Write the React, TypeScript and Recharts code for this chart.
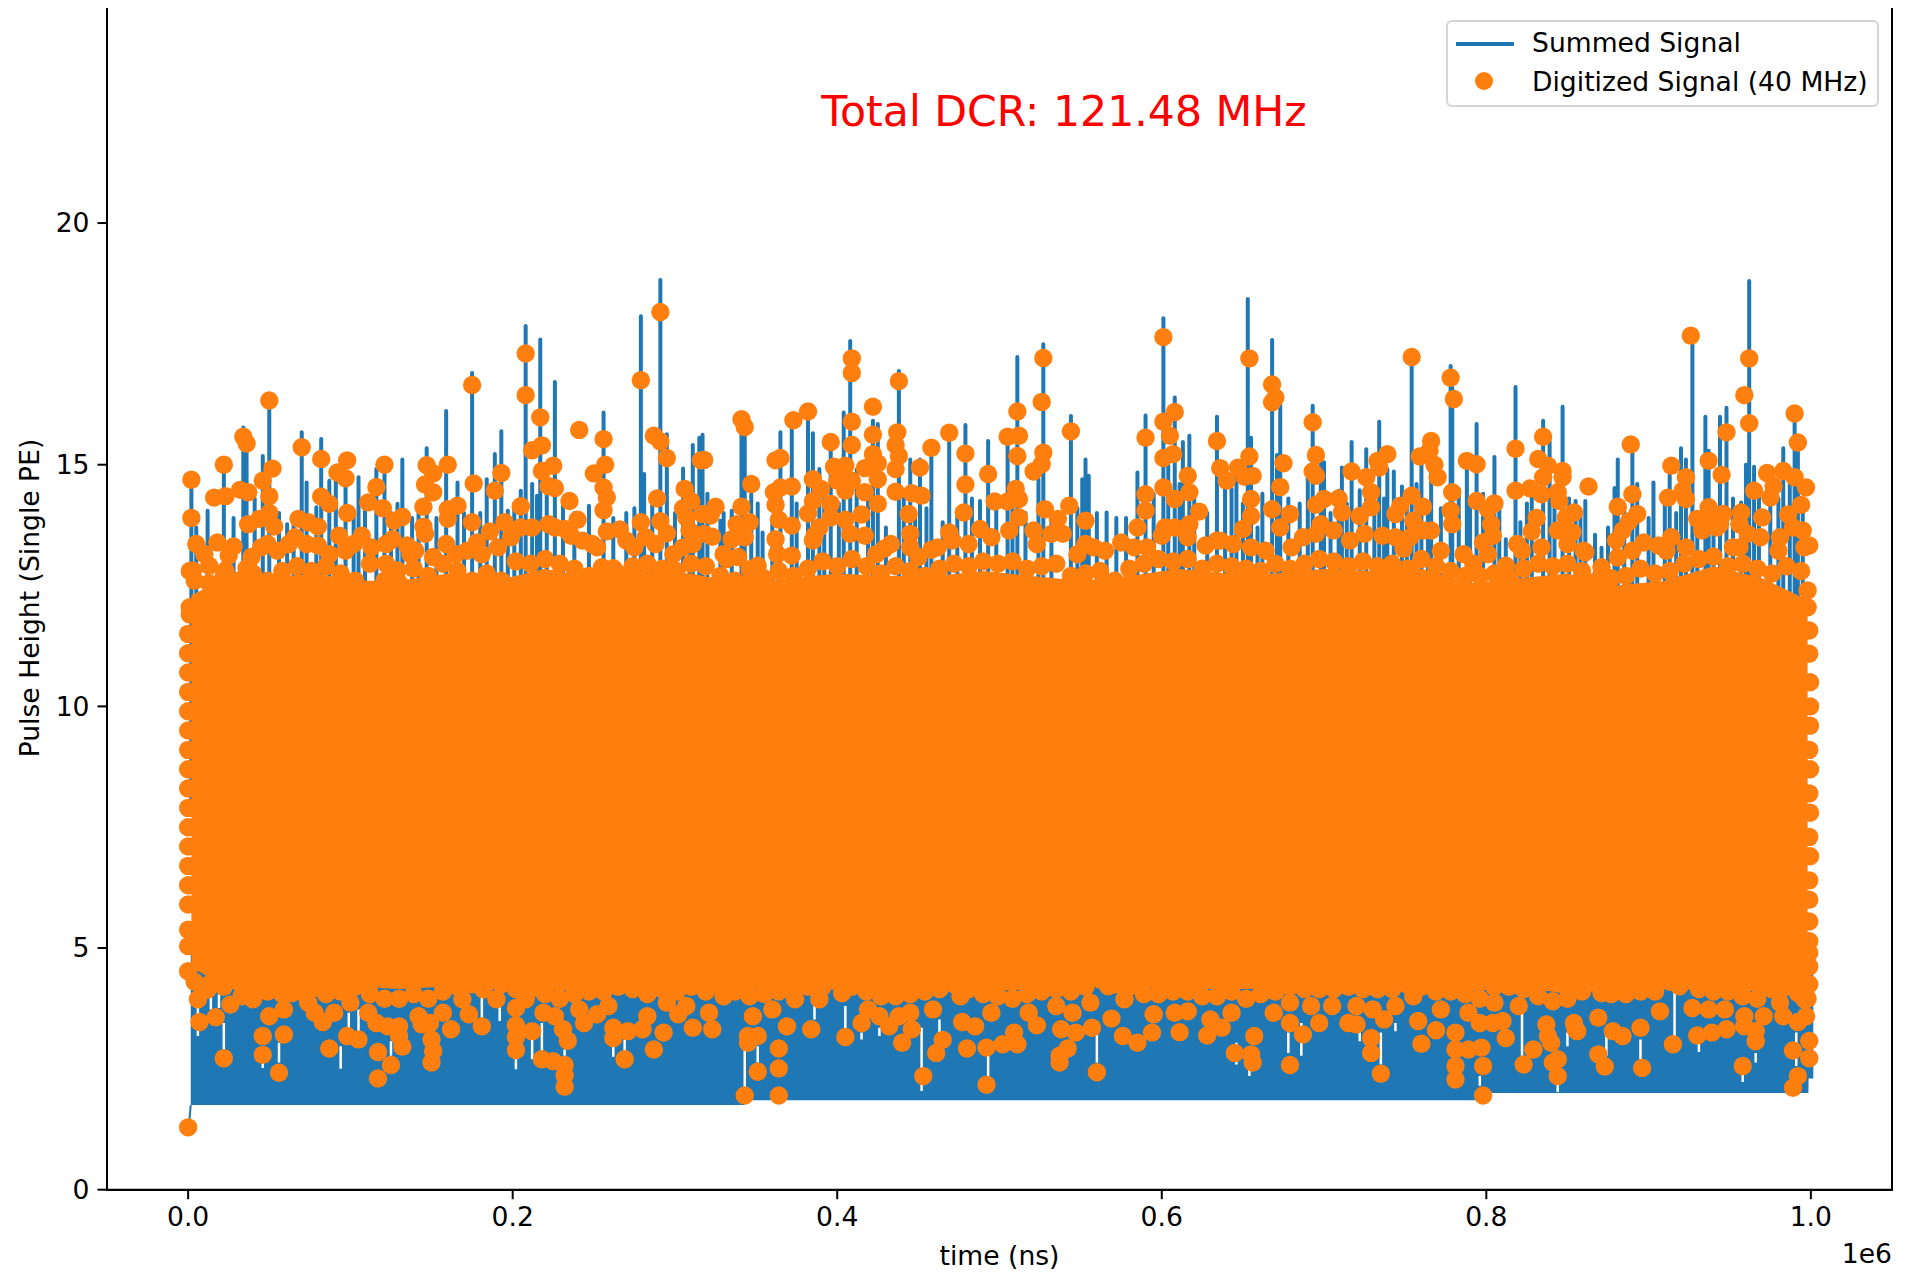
import { ComposedChart, Area, Line, Scatter, XAxis, YAxis } from 'recharts';

const BLUE = '#1f77b4';
const ORANGE = '#ff7f0e';
const FONT = '"DejaVu Sans", sans-serif';

// all times in units of 1e6 ns, like the axis
const xTicks = [0, 0.2, 0.4, 0.6, 0.8, 1.0];
const yTicks = [0, 5, 10, 15, 20];
const xMin = -0.05;
const xMax = 1.05;
const yMax = 24.47;

// floor of the summed signal: [time, lowest value]
const signalFloor = [
    [0.0016, 1.75], [0.343, 1.75], [0.3431, 1.85], [0.797, 1.85], [0.7971, 2.0], [0.9985, 2.0], [0.9986, 2.3], [1.0015, 2.3],
];
const signalStart = [[0.0004, 1.29], [0.0016, 1.75]];

// tallest peaks of the summed signal: [time, value]
const spikesEarly = [
    [0.002, 14.7], [0.005, 13.7], [0.012, 14.05], [0.022, 15.01], [0.034, 15.77], [0.036, 15.5], [0.046, 15.18], [0.05, 16.33], [0.061, 13.77],
    [0.07, 15.67], [0.073, 14.63], [0.079, 14.12], [0.082, 15.53], [0.087, 14.67], [0.091, 14.67], [0.097, 14.67], [0.105, 14.74],
    [0.116, 14.91], [0.121, 14.94], [0.129, 14.19], [0.132, 15.11], [0.147, 15.34], [0.159, 16.11], [0.166, 14.63], [0.175, 16.9],
    [0.184, 14.7], [0.189, 15.22], [0.193, 15.69], [0.197, 14.05], [0.205, 14.46], [0.208, 17.87], [0.217, 17.59], [0.215, 14.36],
    [0.226, 16.71], [0.247, 14.15], [0.256, 16.08], [0.275, 14.1], [0.279, 18.07], [0.281, 14.81], [0.291, 18.82], [0.295, 15.63],
    [0.305, 14.92], [0.311, 15.41], [0.315, 15.56],
];
const spikesMiddle = [
    [0.317, 15.62], [0.328, 13.84], [0.335, 14.05], [0.341, 15.84], [0.343, 15.7], [0.347, 14.39], [0.354, 13.6], [0.365, 15.67], [0.372, 15.77],
    [0.382, 16.11], [0.385, 15.65], [0.389, 14.91], [0.396, 15.36], [0.404, 16.08], [0.408, 17.56], [0.422, 15.91], [0.425, 15.84],
    [0.43, 13.7], [0.438, 16.94], [0.445, 15.11], [0.451, 15.11], [0.458, 15.36], [0.465, 13.81], [0.469, 15.63], [0.479, 15.82],
    [0.488, 14.25], [0.493, 15.49], [0.505, 15.49], [0.511, 17.23], [0.527, 17.49], [0.544, 16.01], [0.553, 15.11], [0.551, 14.7],
    [0.555, 14.77], [0.566, 14.01], [0.572, 13.9], [0.585, 14.84], [0.59, 16.02], [0.601, 18.03], [0.608, 16.39], [0.613, 15.47],
    [0.617, 15.6], [0.634, 15.99], [0.639, 14.67], [0.646, 14.81], [0.653, 18.43], [0.655, 15.56], [0.659, 13.7], [0.668, 17.58], [0.673, 16.25],
];
const spikesLate = [
    [0.693, 16.22], [0.7, 15.05], [0.709, 14.46], [0.711, 14.94], [0.717, 15.47], [0.722, 14.47], [0.726, 15.32], [0.734, 15.89],
    [0.739, 14.91], [0.743, 14.86], [0.748, 14.55], [0.754, 17.15], [0.76, 15.08], [0.766, 15.49], [0.778, 17.04], [0.779, 16.6],
    [0.788, 15.08], [0.794, 15.84], [0.805, 15.16], [0.812, 13.46], [0.818, 16.61], [0.821, 13.81], [0.828, 14.46], [0.835, 15.91],
    [0.839, 15.49], [0.847, 16.2], [0.855, 14.25], [0.861, 14.25], [0.867, 13.55], [0.871, 13.28], [0.879, 14.52], [0.881, 15.11],
    [0.89, 15.42], [0.903, 14.63], [0.913, 14.81], [0.92, 15.34], [0.923, 15.11], [0.927, 17.67], [0.935, 15.99], [0.937, 15.29],
    [0.944, 15.99], [0.948, 16.18], [0.957, 14.22], [0.962, 18.8], [0.965, 14.96], [0.983, 15.34], [0.99, 16.05], [0.992, 15.46],
];
// shorter peaks just above the solid part
const spikesShort = [
    [0.028, 13.9], [0.041, 14.3], [0.056, 14.0], [0.065, 13.9], [0.102, 14.0], [0.109, 14.2], [0.125, 14.0], [0.138, 13.9], [0.142, 14.2], [0.153, 13.9],
    [0.17, 14.0], [0.18, 14.0], [0.201, 14.2], [0.212, 14.6], [0.221, 14.9], [0.231, 14.2], [0.238, 14.0], [0.262, 13.9], [0.27, 14.0], [0.286, 14.4],
    [0.3, 14.0], [0.309, 14.4], [0.32, 14.4], [0.33, 14.0], [0.351, 14.2], [0.36, 13.9], [0.375, 14.2], [0.392, 14.6], [0.401, 14.2], [0.412, 14.9],
    [0.419, 14.4], [0.441, 14.3], [0.448, 14.0], [0.455, 14.1], [0.474, 14.0], [0.483, 14.3], [0.498, 14.2], [0.508, 14.6], [0.516, 14.0], [0.524, 14.7],
    [0.532, 14.0], [0.548, 14.1], [0.56, 14.0], [0.578, 13.9], [0.595, 14.4], [0.604, 15.0], [0.611, 14.6], [0.62, 14.5], [0.628, 14.0], [0.643, 14.5],
    [0.65, 14.2], [0.662, 14.4], [0.671, 15.2], [0.678, 14.3], [0.685, 14.2], [0.69, 14.8], [0.698, 15.3], [0.704, 14.0], [0.714, 14.2], [0.731, 14.1],
    [0.737, 14.3], [0.751, 14.4], [0.757, 14.6], [0.764, 14.2], [0.772, 14.1], [0.783, 14.5], [0.79, 14.2], [0.798, 14.4], [0.808, 14.3], [0.825, 14.2],
    [0.842, 14.4], [0.851, 14.3], [0.858, 14.0], [0.875, 13.7], [0.885, 14.1], [0.893, 14.6], [0.9, 13.9], [0.91, 14.4], [0.917, 14.0], [0.93, 14.0],
    [0.94, 14.2], [0.952, 14.3], [0.96, 15.0], [0.968, 14.5], [0.975, 14.2], [0.98, 14.3], [0.987, 14.6], [0.995, 14.2],
];

// thin gaps low down in the summed signal: [time, low, high]
const signalGaps = [
    [0.006, 3.18, 3.94], [0.022, 2.9, 3.45], [0.046, 2.52, 2.97], [0.056, 2.63, 3.04], [0.094, 2.5, 2.97], [0.125, 2.77, 3.07],
    [0.202, 2.49, 2.77], [0.212, 2.7, 3.11], [0.218, 2.7, 3.45], [0.232, 2.77, 2.9], [0.262, 2.75, 3.04], [0.269, 2.87, 3.11],
    [0.181, 3.56, 4.0], [0.192, 3.49, 3.8], [0.014, 3.73, 4.04], [0.019, 3.76, 4.04], [0.099, 3.32, 3.66], [0.105, 3.28, 3.73],
    [0.343, 2.08, 2.9], [0.351, 2.63, 2.97], [0.386, 3.52, 3.8], [0.405, 3.32, 3.8], [0.415, 3.11, 3.25], [0.426, 3.18, 3.35],
    [0.452, 2.04, 3.35], [0.463, 3.25, 3.52], [0.493, 2.35, 2.77], [0.56, 2.63, 3.25], [0.646, 2.59, 3.04], [0.654, 2.35, 2.56],
    [0.678, 2.83, 3.25], [0.686, 2.77, 3.45], [0.722, 3.07, 3.25], [0.735, 2.59, 3.25], [0.744, 3.28, 3.45], [0.796, 2.15, 2.35],
    [0.822, 2.77, 3.66], [0.844, 2.02, 2.21], [0.85, 2.97, 3.25], [0.874, 2.77, 3.32], [0.895, 2.7, 3.11], [0.916, 3.18, 4.07],
    [0.931, 2.85, 3.04], [0.958, 2.23, 2.42], [0.966, 2.63, 2.83], [0.991, 2.56, 3.25],
];

const digitizedBlock = [
    [0.002, 4.6, 12.3], [0.02, 4.25, 12.6], [0.04, 4.15, 12.65], [0.06, 4.15, 12.7], [0.08, 4.15, 12.75], [0.1, 4.2, 12.6], [0.13, 4.15, 12.6],
    [0.16, 4.2, 12.75], [0.19, 4.2, 12.6], [0.22, 4.1, 12.85], [0.25, 4.15, 12.65], [0.28, 4.15, 12.8], [0.31, 4.15, 12.75], [0.34, 4.15, 12.55],
    [0.37, 4.15, 12.65], [0.4, 4.2, 12.75], [0.43, 4.1, 12.7], [0.46, 4.15, 12.7], [0.49, 4.1, 12.8], [0.52, 4.15, 12.7], [0.55, 4.2, 12.6],
    [0.58, 4.2, 12.7], [0.61, 4.15, 12.85], [0.64, 4.15, 12.75], [0.67, 4.15, 12.75], [0.7, 4.2, 12.85], [0.73, 4.2, 12.8], [0.76, 4.2, 12.85],
    [0.79, 4.1, 12.55], [0.82, 4.2, 12.65], [0.85, 4.05, 12.75], [0.88, 4.15, 12.5], [0.91, 4.2, 12.6], [0.94, 4.15, 12.9], [0.97, 4.1, 12.65], [0.998, 4.2, 12.2],
];

const digitizedTopEarly = [
    [0.002, 14.69], [0.002, 13.9], [0.022, 15.0], [0.016, 14.32], [0.023, 14.35], [0.032, 14.48], [0.037, 14.43], [0.034, 15.58], [0.036, 15.44],
    [0.05, 16.33], [0.052, 14.92], [0.046, 14.67], [0.05, 14.35], [0.05, 14.0], [0.044, 13.88], [0.037, 13.77], [0.053, 13.72], [0.07, 15.36],
    [0.082, 15.12], [0.082, 14.34], [0.087, 14.19], [0.092, 14.84], [0.098, 15.09], [0.097, 14.72], [0.121, 15.0], [0.116, 14.54], [0.111, 14.22],
    [0.12, 14.1], [0.098, 14.0], [0.068, 13.88], [0.074, 13.81], [0.08, 13.72], [0.093, 13.53], [0.132, 13.92], [0.127, 13.84], [0.147, 14.99],
    [0.151, 14.82], [0.146, 14.59], [0.151, 14.43], [0.145, 14.13], [0.16, 15.0], [0.16, 14.08], [0.166, 14.15], [0.16, 13.88], [0.145, 13.72],
    [0.176, 14.61], [0.175, 16.65], [0.175, 13.81], [0.189, 14.46], [0.193, 14.83], [0.208, 17.3], [0.208, 16.44], [0.217, 15.98], [0.218, 15.4],
    [0.212, 15.3], [0.218, 14.87], [0.225, 14.98], [0.222, 14.56], [0.226, 14.52], [0.235, 14.25], [0.205, 14.14], [0.241, 15.72], [0.256, 15.53],
    [0.257, 15.0], [0.25, 14.82], [0.256, 14.53], [0.258, 14.32], [0.256, 14.06], [0.24, 13.86], [0.258, 13.62], [0.266, 13.66], [0.279, 16.75],
    [0.291, 18.16], [0.287, 15.6], [0.291, 15.48], [0.295, 15.14], [0.289, 14.3], [0.279, 13.81], [0.291, 13.83], [0.295, 13.58], [0.306, 14.5],
    [0.316, 15.09], [0.186, 13.62], [0.195, 13.81], [0.107, 13.53], [0.146, 13.57], [0.028, 13.31], [0.018, 13.39], [0.005, 13.36], [0.045, 13.29],
    [0.055, 13.22], [0.003, 12.81], [0.036, 12.86], [0.122, 12.95], [0.129, 12.81], [0.159, 13.36], [0.178, 13.39], [0.262, 12.86], [0.297, 12.84],
    [0.013, 12.91], [0.023, 12.81], [0.08, 13.33], [0.135, 13.33], [0.137, 13.15], [0.249, 13.36], [0.236, 13.53], [0.205, 13.7],
];
const digitizedTopMiddle = [
    [0.318, 15.1], [0.341, 15.94], [0.343, 15.78], [0.347, 14.6], [0.341, 14.13], [0.325, 14.13], [0.322, 13.95], [0.346, 13.81], [0.338, 13.77],
    [0.323, 13.51], [0.335, 13.46], [0.343, 13.5], [0.362, 15.09], [0.365, 15.14], [0.373, 15.92], [0.382, 16.1], [0.372, 14.55], [0.361, 14.43],
    [0.365, 14.53], [0.362, 14.17], [0.364, 13.86], [0.372, 13.74], [0.362, 13.46], [0.385, 14.7], [0.39, 14.5], [0.385, 14.25], [0.396, 14.19],
    [0.382, 13.99], [0.396, 15.47], [0.398, 14.96], [0.405, 14.98], [0.4, 14.67], [0.409, 14.67], [0.405, 14.46], [0.409, 17.2], [0.409, 16.9],
    [0.409, 15.89], [0.409, 15.41], [0.405, 13.86], [0.415, 13.97], [0.422, 16.2], [0.422, 15.62], [0.422, 15.22], [0.425, 15.03], [0.417, 14.93],
    [0.425, 14.7], [0.417, 14.43], [0.425, 14.19], [0.438, 16.73], [0.437, 15.67], [0.436, 15.41], [0.438, 15.18], [0.436, 14.91], [0.436, 14.44],
    [0.446, 14.41], [0.452, 14.36], [0.444, 13.98], [0.451, 14.94], [0.458, 15.35], [0.469, 15.66], [0.479, 15.23], [0.479, 14.59], [0.478, 14.01],
    [0.493, 14.81], [0.497, 14.24], [0.505, 14.24], [0.505, 15.58], [0.512, 15.6], [0.511, 16.1], [0.511, 15.18], [0.51, 14.5], [0.512, 14.29],
    [0.512, 13.91], [0.527, 17.21], [0.526, 16.3], [0.527, 15.25], [0.526, 15.01], [0.521, 14.86], [0.528, 14.08], [0.536, 13.88], [0.544, 15.69],
    [0.543, 14.15], [0.553, 13.84], [0.575, 13.39], [0.59, 15.56], [0.59, 14.39], [0.59, 14.05], [0.585, 13.7], [0.601, 17.64], [0.601, 15.89],
    [0.608, 16.09], [0.605, 15.6], [0.601, 15.14], [0.607, 15.22], [0.616, 14.77], [0.601, 14.53], [0.617, 14.43], [0.608, 14.29], [0.623, 14.03],
    [0.602, 13.7], [0.654, 17.2], [0.634, 15.49], [0.636, 14.93], [0.64, 14.67], [0.647, 14.94], [0.651, 14.75], [0.656, 14.77], [0.654, 15.17],
    [0.655, 14.29], [0.655, 13.94], [0.668, 16.66], [0.67, 16.39], [0.668, 16.29], [0.675, 15.03], [0.673, 14.54], [0.668, 14.08], [0.679, 13.98],
    [0.65, 13.67], [0.634, 13.43], [0.488, 13.67], [0.469, 13.6], [0.458, 13.24], [0.445, 13.57], [0.417, 13.53], [0.429, 13.26], [0.386, 13.53],
    [0.346, 12.84], [0.332, 13.05], [0.553, 13.36], [0.565, 13.22],
];
const digitizedTopLate = [
    [0.693, 15.88], [0.695, 15.2], [0.693, 14.86], [0.695, 14.77], [0.695, 14.17], [0.7, 14.29], [0.709, 14.3], [0.711, 14.01], [0.717, 14.86],
    [0.726, 14.74], [0.729, 14.43], [0.729, 14.12], [0.722, 13.94], [0.698, 13.77], [0.734, 14.94], [0.739, 15.22], [0.733, 15.08], [0.754, 17.23],
    [0.759, 15.17], [0.766, 15.49], [0.765, 15.29], [0.768, 15.0], [0.77, 14.74], [0.754, 14.36], [0.747, 14.15], [0.744, 13.98], [0.761, 14.13],
    [0.755, 13.84], [0.766, 13.64], [0.778, 16.8], [0.78, 16.36], [0.779, 14.43], [0.778, 14.05], [0.779, 13.77], [0.788, 15.08], [0.794, 15.01],
    [0.794, 14.25], [0.805, 14.2], [0.801, 14.08], [0.803, 13.77], [0.804, 13.53], [0.798, 13.39], [0.818, 15.33], [0.818, 14.46], [0.827, 14.51],
    [0.835, 15.58], [0.832, 15.12], [0.838, 14.98], [0.835, 14.74], [0.834, 14.39], [0.847, 14.87], [0.847, 14.74], [0.844, 14.43], [0.845, 14.25],
    [0.854, 14.01], [0.849, 13.91], [0.831, 13.9], [0.863, 14.55], [0.844, 13.64], [0.853, 13.6], [0.828, 13.62], [0.861, 13.19], [0.819, 13.36],
    [0.881, 14.13], [0.889, 15.42], [0.89, 14.39], [0.893, 13.98], [0.888, 13.83], [0.884, 13.64], [0.88, 13.43], [0.897, 13.39], [0.906, 13.33],
    [0.914, 13.5], [0.914, 14.98], [0.912, 14.32], [0.923, 14.74], [0.921, 14.46], [0.923, 14.29], [0.926, 17.67], [0.937, 15.08], [0.945, 14.79],
    [0.937, 14.12], [0.946, 13.98], [0.957, 14.01], [0.948, 15.67], [0.959, 16.44], [0.962, 17.2], [0.962, 15.86], [0.965, 14.46], [0.973, 14.83],
    [0.977, 14.56], [0.975, 14.32], [0.97, 13.91], [0.983, 14.87], [0.99, 14.74], [0.997, 14.53], [0.99, 16.06], [0.992, 15.46], [0.994, 14.17],
    [0.986, 13.97], [0.995, 13.64], [0.981, 13.5], [0.999, 13.33], [0.969, 13.5], [0.956, 13.29], [0.753, 12.84], [0.812, 12.91], [0.749, 13.26], [0.736, 13.53],
];

const digitizedUpperRim = [
    [0.01, 13.15], [0.025, 13.12], [0.039, 13.09], [0.049, 13.36], [0.062, 13.36], [0.066, 13.5], [0.073, 13.36], [0.087, 13.15], [0.097, 13.22], [0.102, 13.36],
    [0.113, 13.29], [0.122, 13.36], [0.126, 13.46], [0.14, 13.22], [0.151, 13.09], [0.165, 13.15], [0.172, 13.22], [0.181, 13.15], [0.191, 13.29], [0.199, 13.5],
    [0.212, 13.7], [0.222, 13.77], [0.226, 13.7], [0.232, 13.67], [0.243, 13.43], [0.252, 13.29], [0.255, 12.88], [0.27, 13.43], [0.275, 13.29], [0.282, 13.5],
    [0.288, 13.36], [0.299, 13.15], [0.305, 13.29], [0.311, 13.36], [0.305, 14.1], [0.31, 14.25], [0.307, 13.91], [0.309, 13.64], [0.317, 13.98], [0.318, 13.57],
    [0.33, 13.15], [0.339, 13.09], [0.351, 12.91], [0.363, 13.15], [0.372, 13.12], [0.385, 13.43], [0.389, 13.7], [0.396, 13.91], [0.408, 13.57], [0.424, 13.15],
    [0.433, 13.36], [0.445, 13.29], [0.45, 13.09], [0.462, 13.29], [0.471, 13.43], [0.481, 13.36], [0.495, 13.5], [0.506, 13.64], [0.521, 13.64], [0.523, 13.36],
    [0.532, 13.57], [0.539, 13.57], [0.548, 13.15], [0.558, 13.29], [0.583, 13.29], [0.591, 13.29], [0.6, 13.53], [0.608, 13.7], [0.617, 13.77], [0.616, 13.5],
    [0.627, 13.33], [0.636, 13.43], [0.644, 13.36], [0.655, 13.29], [0.664, 13.22], [0.673, 13.7], [0.68, 13.29], [0.687, 13.5], [0.695, 13.57], [0.706, 13.64],
    [0.716, 13.43], [0.725, 13.57], [0.744, 13.5], [0.753, 13.5], [0.761, 13.64], [0.772, 13.22], [0.786, 13.15], [0.792, 12.95], [0.801, 13.15], [0.822, 13.22],
    [0.834, 13.29], [0.85, 13.36], [0.86, 13.22], [0.871, 12.88], [0.881, 13.08], [0.89, 13.22], [0.911, 13.22], [0.923, 13.29], [0.933, 13.64], [0.942, 13.7],
    [0.952, 13.29], [0.961, 13.57], [0.98, 13.22], [0.989, 13.7], [0.996, 13.29], [0.93, 13.88], [0.937, 13.84], [0.944, 13.77], [0.956, 13.77],
];
// a second row of points just under that rim
const digitizedUpperFill = [
    [0.004, 12.6], [0.013, 12.55], [0.022, 12.7], [0.031, 12.6], [0.04, 12.75], [0.049, 12.6], [0.058, 12.8], [0.067, 12.9], [0.076, 12.8], [0.085, 12.9],
    [0.094, 12.75], [0.103, 12.6], [0.112, 12.95], [0.121, 12.6], [0.13, 12.55], [0.139, 12.85], [0.148, 12.7], [0.157, 12.95], [0.166, 12.8], [0.175, 12.6],
    [0.184, 12.75], [0.193, 12.6], [0.202, 13.0], [0.211, 12.95], [0.22, 13.05], [0.229, 12.95], [0.238, 12.85], [0.247, 12.7], [0.256, 12.6], [0.265, 12.75],
    [0.274, 12.9], [0.283, 12.95], [0.292, 12.85], [0.301, 12.8], [0.31, 12.95], [0.319, 12.9], [0.328, 12.7], [0.337, 12.6], [0.346, 12.55], [0.355, 12.65],
    [0.364, 12.8], [0.373, 12.7], [0.382, 12.85], [0.391, 13.0], [0.4, 12.9], [0.409, 13.05], [0.418, 12.9], [0.427, 12.75], [0.436, 12.9], [0.445, 12.8],
    [0.454, 12.7], [0.463, 12.85], [0.472, 12.95], [0.481, 12.9], [0.49, 13.0], [0.499, 12.95], [0.508, 13.0], [0.517, 12.85], [0.526, 12.9], [0.535, 12.95],
    [0.544, 12.7], [0.553, 12.75], [0.562, 12.8], [0.571, 12.6], [0.58, 12.85], [0.589, 12.95], [0.598, 13.05], [0.607, 13.0], [0.616, 13.05], [0.625, 12.85],
    [0.634, 12.95], [0.643, 12.9], [0.652, 12.85], [0.661, 12.8], [0.67, 12.95], [0.679, 12.85], [0.688, 12.95], [0.697, 13.05], [0.706, 13.0], [0.715, 12.9],
    [0.724, 13.0], [0.733, 12.9], [0.742, 12.95], [0.751, 12.85], [0.76, 13.05], [0.769, 12.9], [0.778, 12.8], [0.787, 12.7], [0.796, 12.7], [0.805, 12.75],
    [0.814, 12.65], [0.823, 12.85], [0.832, 12.95], [0.841, 12.9], [0.85, 12.95], [0.859, 12.8], [0.868, 12.6], [0.877, 12.65], [0.886, 12.7], [0.895, 12.85],
    [0.904, 12.75], [0.913, 12.8], [0.922, 12.95], [0.931, 13.05], [0.94, 13.1], [0.949, 12.9], [0.958, 12.95], [0.967, 12.85], [0.976, 12.75], [0.985, 12.9], [0.994, 12.8],
];

const digitizedLowEarly = [
    [0.0, 1.29], [0.0, 4.52], [0.006, 3.94], [0.007, 3.47], [0.017, 3.57], [0.022, 2.72], [0.026, 3.83], [0.046, 3.18], [0.046, 2.79], [0.059, 3.21],
    [0.056, 2.42], [0.083, 3.47], [0.074, 3.87], [0.087, 2.92], [0.098, 3.18], [0.105, 3.11], [0.117, 2.85], [0.117, 2.3], [0.125, 2.58], [0.132, 2.96],
    [0.13, 3.18], [0.144, 3.42], [0.15, 2.63], [0.151, 2.87], [0.15, 3.11], [0.162, 3.32], [0.173, 3.63], [0.181, 3.38], [0.19, 3.94], [0.202, 3.76],
    [0.202, 3.4], [0.202, 3.16], [0.202, 2.89], [0.212, 3.28], [0.218, 2.7], [0.225, 2.66], [0.232, 2.58], [0.232, 2.37], [0.232, 2.13], [0.234, 3.08],
    [0.244, 3.45], [0.252, 3.63], [0.262, 3.35], [0.262, 3.14], [0.269, 2.7], [0.271, 3.28], [0.28, 3.32], [0.287, 2.9], [0.293, 3.25], [0.302, 3.63], [0.311, 3.35],
];
const digitizedLowMiddle = [
    [0.323, 3.32], [0.345, 3.18], [0.345, 3.04], [0.351, 3.18], [0.343, 1.95], [0.351, 2.44], [0.364, 2.92], [0.364, 2.51], [0.364, 1.95], [0.369, 3.38],
    [0.384, 3.32], [0.405, 3.16], [0.415, 3.45], [0.432, 3.38], [0.44, 3.04], [0.446, 3.32], [0.453, 2.35], [0.461, 2.83], [0.465, 3.1], [0.477, 3.47],
    [0.48, 2.92], [0.492, 2.94], [0.492, 2.17], [0.502, 3.01], [0.511, 3.01], [0.523, 3.4], [0.537, 2.77], [0.537, 2.63], [0.542, 2.92], [0.538, 3.32],
    [0.547, 3.25], [0.557, 3.35], [0.56, 2.43], [0.569, 3.54], [0.576, 3.18], [0.585, 3.04], [0.594, 3.25], [0.611, 3.26], [0.616, 3.69], [0.628, 3.19],
    [0.637, 3.35], [0.645, 2.83], [0.655, 2.8], [0.656, 2.63], [0.679, 2.58], [0.679, 3.45],
];
const digitizedLowLate = [
    [0.687, 3.21], [0.697, 3.45], [0.715, 3.45], [0.72, 3.42], [0.729, 3.14], [0.729, 2.83], [0.735, 2.4], [0.737, 3.52], [0.758, 3.49], [0.76, 3.02],
    [0.769, 3.3], [0.781, 3.25], [0.781, 2.9], [0.781, 2.56], [0.781, 2.28], [0.798, 1.95], [0.798, 2.56], [0.797, 2.94], [0.789, 2.9], [0.804, 3.45],
    [0.812, 3.14], [0.81, 3.49], [0.823, 2.59], [0.829, 2.9], [0.84, 3.04], [0.841, 2.63], [0.844, 2.35], [0.844, 2.7], [0.855, 3.32], [0.869, 2.8],
    [0.873, 2.55], [0.884, 3.18], [0.869, 3.56], [0.896, 2.52], [0.895, 3.35], [0.915, 3.01], [0.93, 3.19], [0.939, 3.25], [0.927, 3.76], [0.948, 3.32],
    [0.958, 2.56], [0.966, 3.07], [0.959, 3.38], [0.971, 3.59], [0.983, 3.59], [0.989, 2.88], [0.989, 2.11], [0.992, 2.35], [0.999, 3.08], [0.999, 2.72],
    [0.992, 3.47], [0.997, 3.59],
];

const digitizedLowerRim = [
    [0.012, 4.14], [0.033, 4.0], [0.04, 3.94], [0.05, 3.59], [0.059, 3.73], [0.064, 4.07], [0.071, 4.07], [0.078, 3.66], [0.09, 3.66], [0.1, 3.87],
    [0.111, 3.66], [0.116, 3.45], [0.123, 3.38], [0.13, 3.38], [0.142, 3.59], [0.149, 3.45], [0.157, 3.66], [0.169, 3.94], [0.182, 4.14], [0.208, 3.94],
    [0.219, 3.66], [0.226, 3.59], [0.231, 3.32], [0.241, 3.73], [0.259, 3.8], [0.283, 3.59], [0.295, 3.87], [0.307, 3.8], [0.321, 3.66], [0.33, 4.0],
    [0.348, 3.59], [0.36, 3.73], [0.374, 3.94], [0.389, 3.94], [0.403, 4.07], [0.419, 3.73], [0.426, 3.59], [0.438, 3.59], [0.445, 3.66], [0.459, 3.73],
    [0.476, 4.0], [0.485, 3.38], [0.495, 3.66], [0.509, 3.25], [0.518, 3.66], [0.535, 3.8], [0.545, 3.66], [0.556, 3.87], [0.567, 4.21], [0.577, 3.94],
    [0.595, 3.63], [0.608, 3.66], [0.63, 3.52], [0.643, 3.66], [0.657, 3.18], [0.669, 3.66], [0.679, 3.87], [0.692, 3.8], [0.705, 3.8], [0.72, 3.8],
    [0.73, 3.73], [0.744, 3.8], [0.755, 4.0], [0.772, 3.73], [0.789, 3.66], [0.796, 3.45], [0.805, 3.87], [0.82, 3.8], [0.837, 3.42], [0.838, 3.18],
    [0.854, 3.45], [0.856, 3.28], [0.871, 4.07], [0.878, 3.28], [0.907, 3.69], [0.919, 4.21], [0.937, 3.73], [0.947, 3.73], [0.959, 3.59], [0.966, 3.28],
    [0.981, 3.87], [0.992, 4.07], [0.996, 3.94],
];
// a second row of points just above that rim
const digitizedLowerFill = [
    [0.004, 4.3], [0.013, 4.25], [0.022, 4.2], [0.031, 4.3], [0.04, 4.2], [0.049, 4.1], [0.058, 4.05], [0.067, 4.25], [0.076, 4.15], [0.085, 4.05],
    [0.094, 4.1], [0.103, 4.2], [0.112, 4.05], [0.121, 3.95], [0.13, 3.95], [0.139, 4.05], [0.148, 3.95], [0.157, 4.1], [0.166, 4.2], [0.175, 4.25],
    [0.184, 4.3], [0.193, 4.25], [0.202, 4.15], [0.211, 4.15], [0.22, 4.05], [0.229, 3.95], [0.238, 4.05], [0.247, 4.1], [0.256, 4.1], [0.265, 4.2],
    [0.274, 4.15], [0.283, 4.05], [0.292, 4.15], [0.301, 4.1], [0.31, 4.2], [0.319, 4.1], [0.328, 4.2], [0.337, 4.1], [0.346, 4.0], [0.355, 4.05],
    [0.364, 4.1], [0.373, 4.2], [0.382, 4.2], [0.391, 4.2], [0.4, 4.3], [0.409, 4.2], [0.418, 4.1], [0.427, 4.0], [0.436, 4.0], [0.445, 4.05],
    [0.454, 4.1], [0.463, 4.15], [0.472, 4.25], [0.481, 4.15], [0.49, 4.05], [0.499, 4.0], [0.508, 3.95], [0.517, 4.05], [0.526, 4.1], [0.535, 4.15],
    [0.544, 4.1], [0.553, 4.2], [0.562, 4.35], [0.571, 4.25], [0.58, 4.2], [0.589, 4.05], [0.598, 4.05], [0.607, 4.1], [0.616, 4.1], [0.625, 4.0],
    [0.634, 4.0], [0.643, 4.1], [0.652, 3.95], [0.661, 4.05], [0.67, 4.1], [0.679, 4.2], [0.688, 4.15], [0.697, 4.15], [0.706, 4.15], [0.715, 4.2],
    [0.724, 4.15], [0.733, 4.15], [0.742, 4.15], [0.751, 4.25], [0.76, 4.2], [0.769, 4.1], [0.778, 4.1], [0.787, 4.05], [0.796, 3.95], [0.805, 4.2],
    [0.814, 4.2], [0.823, 4.15], [0.832, 4.0], [0.841, 3.9], [0.85, 3.95], [0.859, 4.1], [0.868, 4.3], [0.877, 4.05], [0.886, 4.05], [0.895, 4.1],
    [0.904, 4.1], [0.913, 4.3], [0.922, 4.3], [0.931, 4.15], [0.94, 4.1], [0.949, 4.1], [0.958, 4.0], [0.967, 3.95], [0.976, 4.15], [0.985, 4.2], [0.994, 4.25],
];

// points along the two ends of the record: [time, value]
const digitizedLeftEnd = [
    [0.0, 5.04], [0.0, 5.38], [0.0, 5.9], [0.0, 6.3], [0.0, 6.7], [0.0, 7.1], [0.0, 7.5], [0.0, 7.9], [0.0, 8.3], [0.0, 8.7], [0.0, 9.1], [0.0, 9.5],
    [0.0, 9.9], [0.0, 10.3], [0.0, 10.7], [0.0, 11.1], [0.0, 11.5], [0.001, 11.9], [0.001, 12.05], [0.001, 12.8],
];
const digitizedRightEnd = [
    [0.998, 3.95], [0.999, 4.25], [0.999, 4.62], [0.999, 4.9], [0.999, 5.14], [0.999, 5.55], [0.999, 6.0], [0.999, 6.4], [0.9995, 6.9], [0.999, 7.3],
    [0.9995, 7.8], [0.999, 8.2], [0.9995, 8.7], [0.999, 9.1], [0.9995, 9.6], [0.9995, 10.0], [0.9995, 10.5], [0.999, 11.09], [0.999, 11.57], [0.998, 12.05], [0.998, 12.4],
];

const toPoint = ([t, v]: number[]) => ({ t, v });

const floorRows = signalFloor.map(([t, low]) => ({ t, band: [low, 5] }));
const startRows = signalStart.map(toPoint);
const spikeRows = [...spikesEarly, ...spikesMiddle, ...spikesLate, ...spikesShort]
    .sort((a, b) => a[0] - b[0])
    .flatMap(([t, v]) => [{ t, v: 8 }, { t, v }, { t, v: 8 }]);
const gapRows = signalGaps.flatMap(([t, low, high]) => [{ t, v: low }, { t, v: high }, { t, v: null }]);
const blockRows = digitizedBlock.map(([t, low, high]) => ({ t, band: [low, high] }));
const digitizedRows = [
    ...digitizedLeftEnd,
    ...digitizedRightEnd,
    ...digitizedTopEarly,
    ...digitizedTopMiddle,
    ...digitizedTopLate,
    ...digitizedUpperRim,
    ...digitizedUpperFill,
    ...digitizedLowEarly,
    ...digitizedLowMiddle,
    ...digitizedLowLate,
    ...digitizedLowerRim,
    ...digitizedLowerFill,
].map(toPoint);

const DigitizedDot = ({ cx, cy }: any) => <circle cx={cx} cy={cy} r={9.2} fill={ORANGE} />;

const tickStyle = { fill: '#000', fontSize: 26.6, fontFamily: FONT };

export default function App() {
    return (
        <div style={{ position: 'relative', width: 1909, height: 1273, margin: '-8px 0 0 -8px', background: '#fff', fontFamily: FONT, color: '#000' }}>
            <ComposedChart width={1909} height={1273} margin={{ top: 7, right: 17, bottom: 0, left: 0 }} data={digitizedRows}>
                <XAxis
                    type="number"
                    dataKey="t"
                    domain={[xMin, xMax]}
                    ticks={xTicks}
                    interval={0}
                    height={83.3}
                    allowDataOverflow
                    tickFormatter={(value) => value.toFixed(1)}
                    tick={tickStyle}
                    tickSize={9.5}
                    tickMargin={8}
                    stroke="#000"
                    strokeWidth={2}
                />
                <YAxis
                    type="number"
                    domain={[0, yMax]}
                    ticks={yTicks}
                    interval={0}
                    width={107}
                    allowDataOverflow
                    tick={tickStyle}
                    tickSize={9.5}
                    tickMargin={8}
                    stroke="#000"
                    strokeWidth={2}
                />
                <Area data={floorRows} dataKey="band" type="linear" stroke="none" fill={BLUE} fillOpacity={1} dot={false} activeDot={false} isAnimationActive={false} />
                <Area data={spikeRows} dataKey="v" type="linear" stroke={BLUE} strokeWidth={4} strokeLinejoin="round" fill="none" dot={false} activeDot={false} isAnimationActive={false} />
                <Area data={gapRows} dataKey="v" type="linear" stroke="#fff" strokeWidth={2.5} fill="none" dot={false} activeDot={false} isAnimationActive={false} />
                <Area data={blockRows} dataKey="band" type="linear" stroke="none" fill={ORANGE} fillOpacity={1} dot={false} activeDot={false} isAnimationActive={false} />
                <Line data={startRows} dataKey="v" type="linear" stroke={BLUE} strokeWidth={2} dot={false} activeDot={false} isAnimationActive={false} />
                <Scatter dataKey="v" shape={DigitizedDot} isAnimationActive={false} />
            </ComposedChart>

            {/* top and right spines */}
            <div style={{ position: 'absolute', left: 106, top: 6, width: 1787, height: 1184.7, boxSizing: 'border-box', border: '2px solid #000', pointerEvents: 'none' }} />

            <div style={{ position: 'absolute', left: 999.5, top: 1240, transform: 'translateX(-50%)', fontSize: 26.6, lineHeight: '32px', whiteSpace: 'nowrap' }}>time (ns)</div>
            <div style={{ position: 'absolute', left: 30, top: 598, transform: 'translate(-50%, -50%) rotate(-90deg)', fontSize: 26.6, lineHeight: '32px', whiteSpace: 'nowrap' }}>Pulse Height (Single PE)</div>
            <div style={{ position: 'absolute', right: 17, top: 1238, fontSize: 26.6, lineHeight: '32px' }}>1e6</div>
            <div style={{ position: 'absolute', left: 1064, top: 111, transform: 'translate(-50%, -50%)', fontSize: 42.6, lineHeight: '50px', color: '#ff0000', whiteSpace: 'nowrap' }}>Total DCR: 121.48 MHz</div>

            <div style={{ position: 'absolute', left: 1446, top: 20, width: 433, height: 87, boxSizing: 'border-box', border: '2px solid #d5d5d5', borderRadius: 6, background: 'rgba(255,255,255,0.8)', fontSize: 26.6 }}>
                <div style={{ position: 'absolute', left: 8, top: 20, width: 58, height: 4, background: BLUE }} />
                <div style={{ position: 'absolute', left: 84, top: 5, lineHeight: '32px', whiteSpace: 'nowrap' }}>Summed Signal</div>
                <div style={{ position: 'absolute', left: 27, top: 50, width: 18.4, height: 18.4, borderRadius: '50%', background: ORANGE }} />
                <div style={{ position: 'absolute', left: 84, top: 44, lineHeight: '32px', whiteSpace: 'nowrap' }}>Digitized Signal (40 MHz)</div>
            </div>
        </div>
    );
}
